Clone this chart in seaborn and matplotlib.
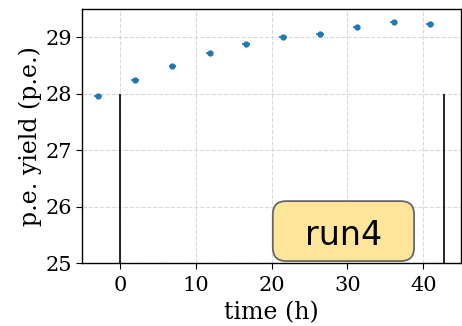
import numpy as np
import pandas as pd
import matplotlib
matplotlib.use("Agg")
import matplotlib.pyplot as plt
from matplotlib.patches import FancyBboxPatch
import seaborn as sns

# datos
time_h = [-2.9, 2.0, 6.9, 11.8, 16.6, 21.5, 26.4, 31.2, 36.1, 40.9]
pe_yield = [27.96, 28.25, 28.49, 28.73, 28.89, 29.00, 29.06, 29.19, 29.27, 29.23]
pe_err = [0.02, 0.02, 0.02, 0.02, 0.02, 0.02, 0.02, 0.02, 0.02, 0.02]
run_start = 0.0
run_end = 42.7
run_label = "run4"

df = pd.DataFrame({"time": time_h, "pe": pe_yield, "err": pe_err})

sns.set_style("whitegrid", {"grid.linestyle": "--", "grid.color": "#d9d9d9",
                            "axes.edgecolor": "black", "text.color": "black",
                            "axes.labelcolor": "black", "xtick.color": "black",
                            "ytick.color": "black"})
plt.rcParams["font.family"] = ["DejaVu Serif"]

fig, ax = plt.subplots(figsize=(4.62, 3.26), dpi=100)
ax.errorbar(df["time"], df["pe"], yerr=df["err"], xerr=0.5, fmt="o", ms=3.5,
            color="#1f77b4", elinewidth=1.2, capsize=0)
ax.vlines([run_start, run_end], 25, 28, color="black", lw=1.2)

ax.set_xlim(-5, 45)
ax.set_ylim(25, 29.5)
ax.set_yticks([25, 26, 27, 28, 29])
ax.set_xlabel("time (h)", fontsize=17, labelpad=5)
ax.set_ylabel("p.e. yield (p.e.)", fontsize=17, labelpad=3)
ax.tick_params(labelsize=15, length=4, color="black", labelcolor="black",
               left=True, bottom=True, pad=3)
ax.tick_params(axis="x", pad=5)
for s in ax.spines.values():
    s.set_color("black")
    s.set_linewidth(1.0)

# caja del run
caja = FancyBboxPatch((0.503, 0.008), 0.373, 0.236, transform=ax.transAxes,
                      boxstyle="round,pad=0,rounding_size=0.035",
                      mutation_aspect=380 / 254, fc="#ffe599", ec="#666666",
                      lw=1.3, zorder=5)
ax.add_patch(caja)
ax.text(0.689, 0.071, run_label, transform=ax.transAxes, fontsize=24,
        family="DejaVu Sans", ha="center", va="baseline", color="black", zorder=6)

plt.subplots_adjust(left=0.178, right=0.998, top=0.972, bottom=0.193)
plt.savefig("out.png", dpi=100)
plt.close()
